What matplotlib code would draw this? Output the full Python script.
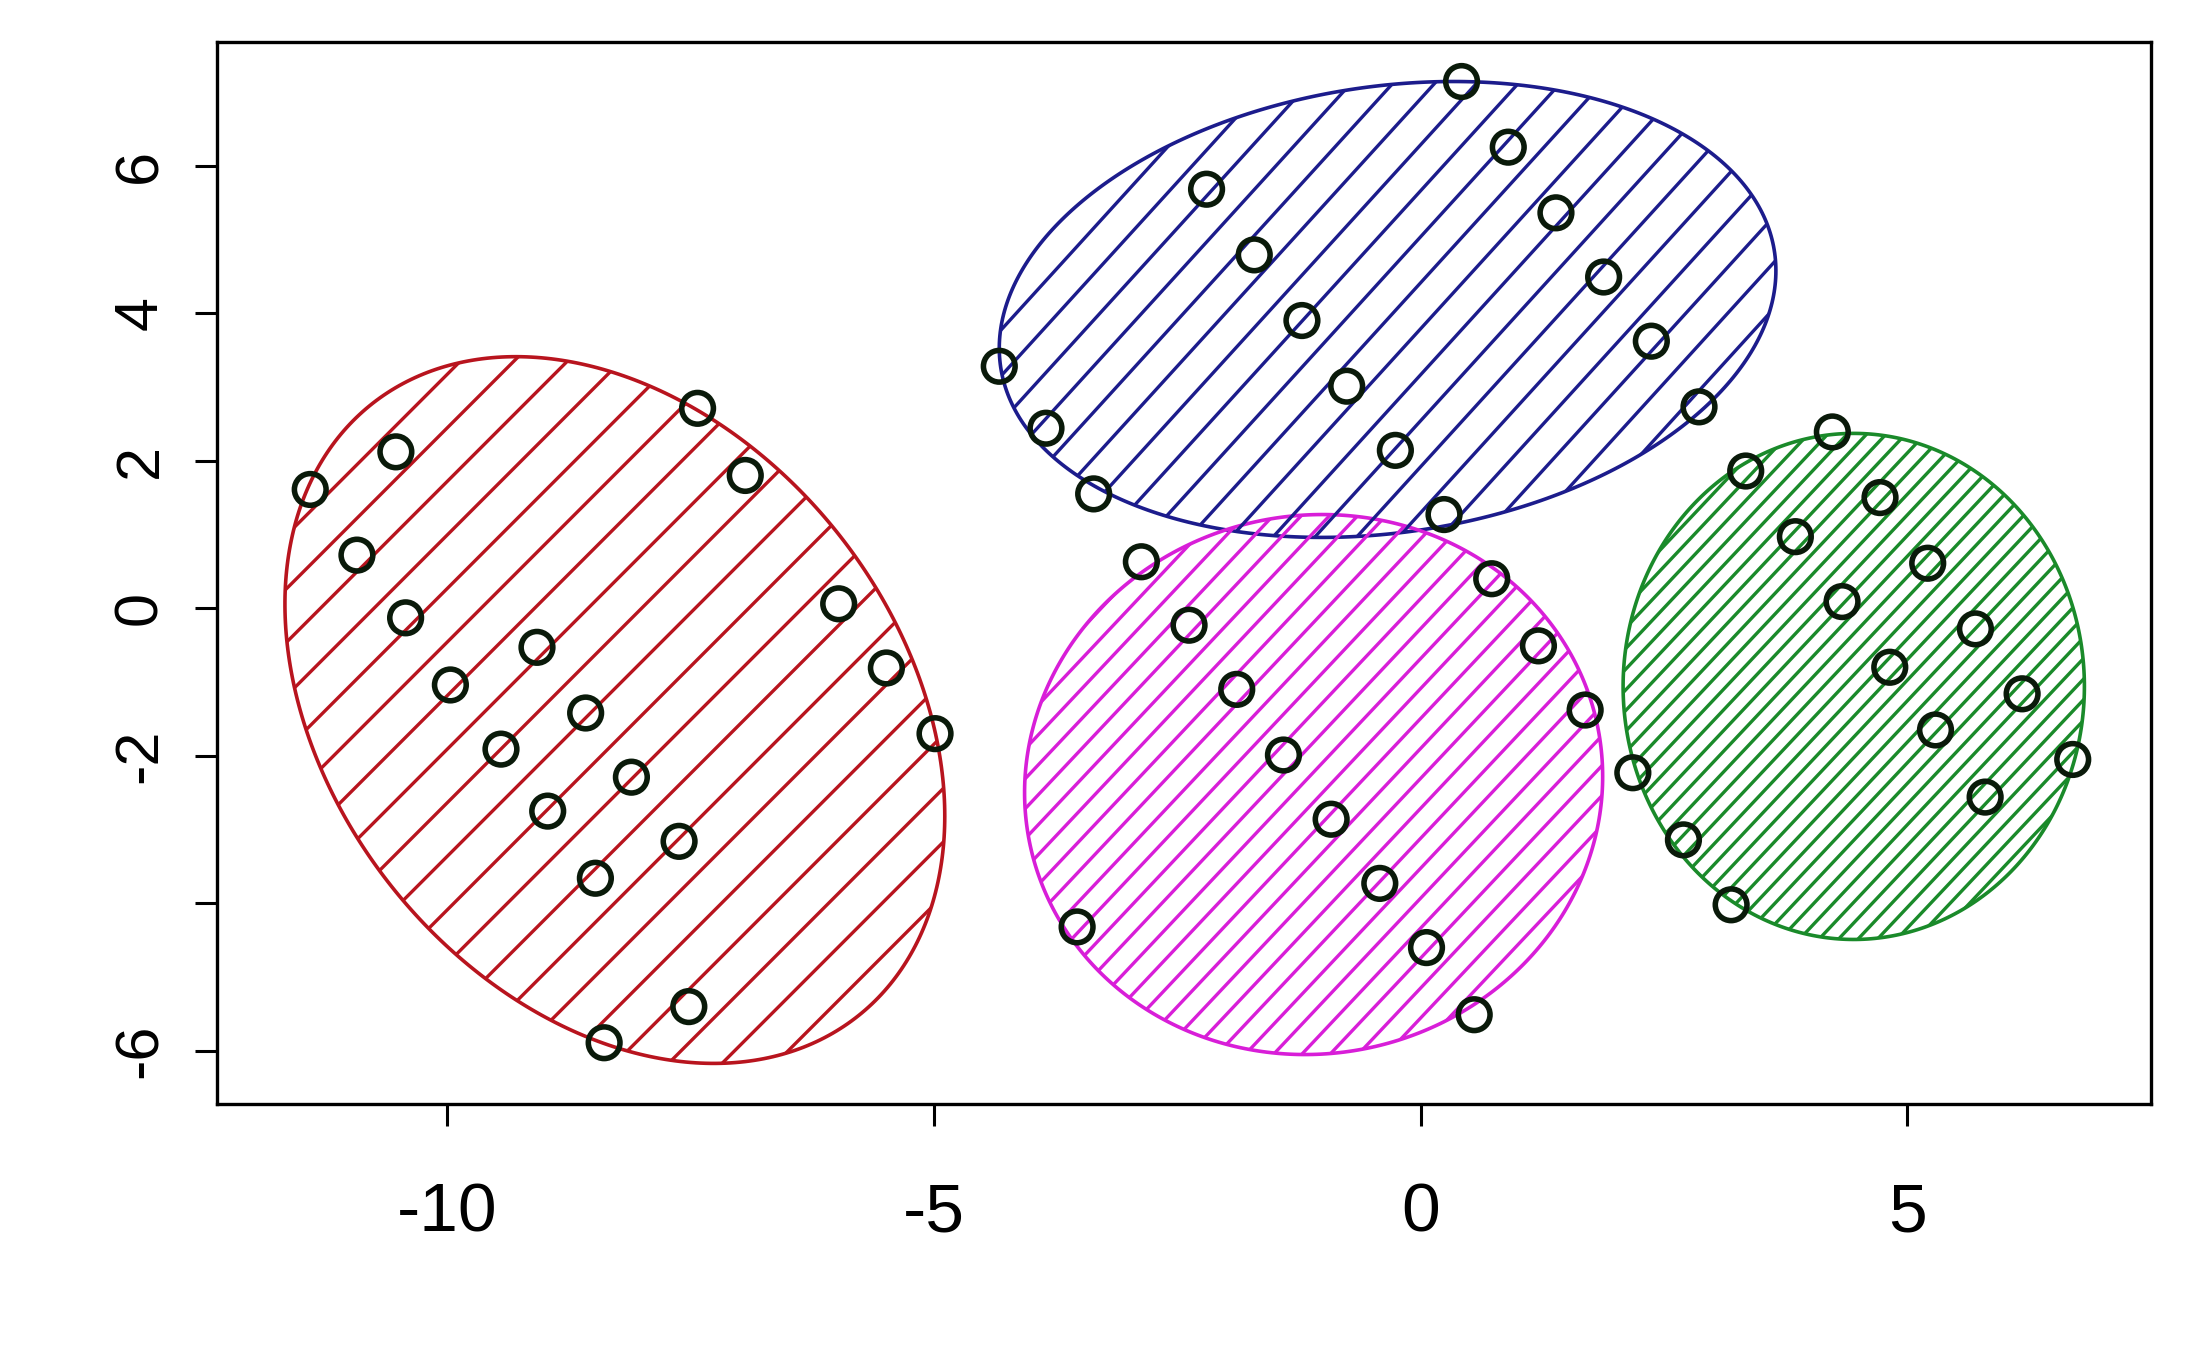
import numpy as np
import matplotlib
matplotlib.use("Agg")
from matplotlib import pyplot as plt
from matplotlib.patches import Polygon

plt.rcParams['font.family'] = ['Liberation Sans', 'DejaVu Sans']
plt.rcParams['axes.unicode_minus'] = False

# cluster points
red_x = [-11.41, -10.53, -10.93, -10.43, -9.97, -9.08, -9.45, -8.58, -8.97, -8.11,
         -8.48, -7.62, -8.39, -7.52, -7.43, -6.94, -5.98, -5.49, -4.99]
red_y = [1.61, 2.12, 0.72, -0.13, -1.04, -0.53, -1.91, -1.42, -2.75, -2.29,
         -3.66, -3.16, -5.89, -5.40, 2.71, 1.80, 0.06, -0.81, -1.70]
blue_x = [0.42, 0.90, -2.20, -1.71, 1.39, -1.22, 1.88, 2.37, -4.33, -0.76,
          -3.85, 2.86, -0.26, -3.36, 0.24]
blue_y = [7.14, 6.25, 5.68, 4.79, 5.36, 3.90, 4.49, 3.62, 3.28, 3.01,
          2.44, 2.73, 2.14, 1.55, 1.27]
mag_x = [-2.87, -2.38, 0.73, 1.21, -1.89, 1.69, -1.41, -0.92, 2.18, -0.42, -3.53, 0.06, 0.55]
mag_y = [0.63, -0.23, 0.40, -0.51, -1.10, -1.38, -1.99, -2.86, -2.23, -3.73, -4.32, -4.60, -5.51]
green_x = [4.23, 3.34, 4.72, 3.85, 5.21, 4.33, 5.70, 4.82, 6.18, 5.29, 6.70, 5.80, 2.70, 3.19]
green_y = [2.39, 1.86, 1.50, 0.97, 0.61, 0.09, -0.28, -0.80, -1.16, -1.65, -2.05, -2.56, -3.14, -4.02]

# ellipses: centre x, centre y, half width, half height, tilt (rho)
ellipses = [(-8.28, -1.38, 3.39, 4.79, -0.30),
            (-0.34, 4.05, 3.99, 3.09, 0.17),
            (-1.10, -2.39, 2.97, 3.66, 0.03),
            (4.45, -1.06, 2.37, 3.43, 0.0)]
colors = ['#B8141E', '#1C1C8C', '#D81ED8', '#1A8A2A']
hatch_gap = [0.55, 0.43, 0.29, 0.20]   # horizontal spacing of hatch lines (data units)
hatch_slope = [1.32, 1.45, 1.40, 1.40]

fig = plt.figure(figsize=(21.9, 13.68), dpi=100)
ax = fig.add_axes([0.099, 0.193, 0.883, 0.776])
ax.set_xlim(-12.37, 7.5)
ax.set_ylim(-6.72, 7.67)

t = np.linspace(0, 2 * np.pi, 400)
for (cx, cy, hx, hy, rho), col, gap, slope in zip(ellipses, colors, hatch_gap, hatch_slope):
    phi = np.arccos(rho)
    ex = cx + hx * np.cos(t)
    ey = cy + hy * np.cos(t - phi)
    poly = Polygon(np.column_stack([ex, ey]), closed=True, fill=False,
                   edgecolor=col, lw=2.6)
    ax.add_patch(poly)
    xs = np.array([cx - 3 * hx - 6, cx + 3 * hx + 6])
    for off in np.arange(-3 * hx - 6, 3 * hx + 6, gap):
        ln, = ax.plot(xs, cy + slope * (xs - cx - off), color=col, lw=2.4)
        ln.set_clip_path(poly)

for px, py in [(red_x, red_y), (blue_x, blue_y), (mag_x, mag_y), (green_x, green_y)]:
    ax.scatter(px, py, s=520, facecolors='none', edgecolors='#0a1a0a', linewidths=4, zorder=5)

ax.set_xticks([-10, -5, 0, 5])
ax.set_yticks([-6, -4, -2, 0, 2, 4, 6])
ax.set_yticklabels(['-6', '', '-2', '0', '2', '4', '6'], rotation=90, va='center')
ax.tick_params(length=16, width=2.2)
ax.tick_params(axis='x', labelsize=50, pad=40)
ax.tick_params(axis='y', labelsize=44, pad=18)
for sp in ax.spines.values():
    sp.set_linewidth(2.4)

fig.savefig('out.png', dpi=100)
